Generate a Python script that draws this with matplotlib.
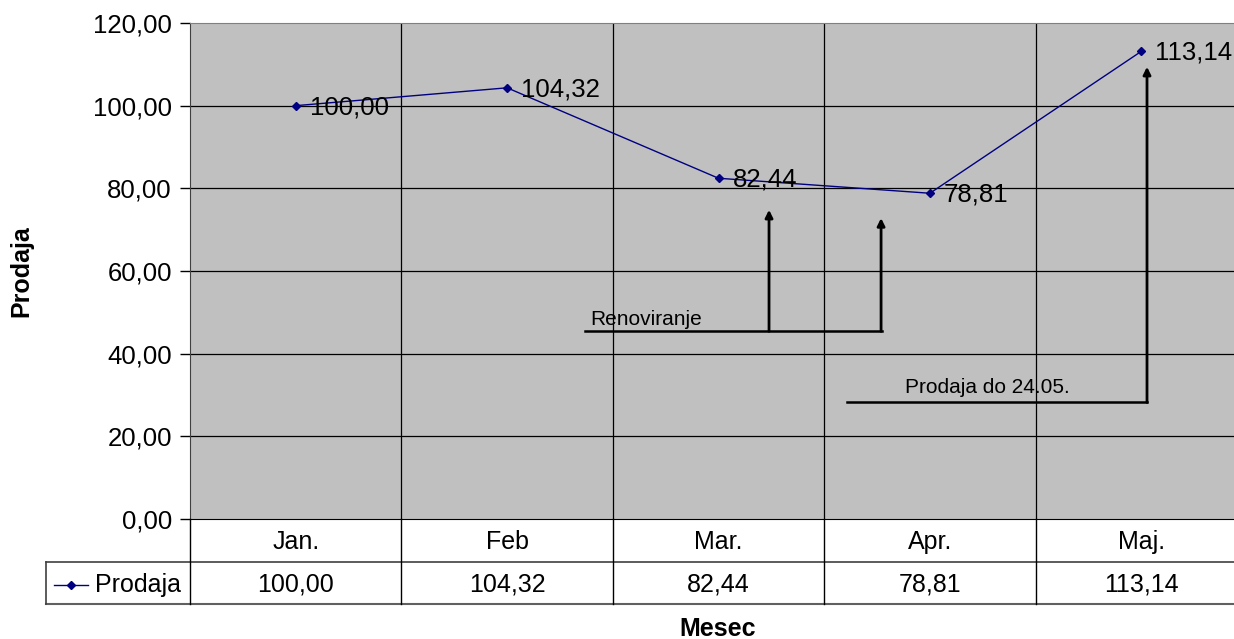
import numpy as np
import matplotlib
matplotlib.use("Agg")
import matplotlib.pyplot as plt

plt.rcParams['font.family'] = ['Liberation Sans', 'DejaVu Sans']

# --- Données ---
mois = ["Jan.", "Feb", "Mar.", "Apr.", "Maj."]
prodaja = [100.00, 104.32, 82.44, 78.81, 113.14]
yticks = [0, 20, 40, 60, 80, 100, 120]

def fmt(v):
    return f"{v:.2f}".replace(".", ",")

navy = "#000080"
W, H = 1234, 639
fig = plt.figure(figsize=(W / 100, H / 100), dpi=100)

# axes principal (la droite dépasse de l'image, comme l'original)
x0, x1 = 190 / W, 1247 / W
ax = fig.add_axes([x0, (H - 519) / H, x1 - x0, (519 - 23) / H])
ax.set_facecolor("#C0C0C0")
x = np.arange(len(mois))
ax.plot(x, prodaja, color=navy, lw=1, marker="D", ms=4.5, mec=navy, mfc=navy)
for xi, v in zip(x, prodaja):
    ax.annotate(fmt(v), (xi, v), xytext=(10, -1), textcoords="offset points",
                fontsize=18.5, va="center", ha="left")

ax.set_xlim(-0.5, len(mois) - 0.5)
ax.set_ylim(0, 120)
ax.set_yticks(yticks)
ax.set_yticklabels([fmt(v) for v in yticks], fontsize=18.5)
ax.tick_params(axis="y", length=7, width=1, pad=6)
ax.set_xticks([])
for yy in yticks[1:-1]:
    ax.axhline(yy, color="black", lw=0.9, zorder=1)
for b in np.arange(0.5, len(mois) - 0.5, 1):
    ax.axvline(b, color="black", lw=0.9, zorder=1)
ax.spines["top"].set_color("#808080")
ax.spines["left"].set_color("#404040")
ax.spines["bottom"].set_color("black")
ax.spines["right"].set_visible(False)
ax.set_ylabel("Prodaja", fontsize=18, fontweight="bold")
ax.yaxis.set_label_coords(-0.148, 0.5)

# annotations (flèches)
arr = dict(arrowstyle="-|>", color="black", lw=2, mutation_scale=11, shrinkA=0, shrinkB=0)
ax.plot([1.369, 2.773], [45.4, 45.4], color="black", lw=1.8)
ax.annotate("", xy=(2.239, 74.8), xytext=(2.239, 45.4), arrowprops=arr)
ax.annotate("", xy=(2.769, 72.8), xytext=(2.769, 45.4), arrowprops=arr)
ax.text(1.392, 45.9, "Renoviranje", fontsize=15, va="bottom", ha="left")

ax.plot([2.608, 4.027], [28.2, 28.2], color="black", lw=1.8)
ax.annotate("", xy=(4.027, 109.4), xytext=(4.027, 28.2), arrowprops=arr)
ax.text(2.882, 31.7, "Prodaja do 24.05.", fontsize=15, va="center", ha="left")

# tableau de données
tx = fig.add_axes([x0, (H - 604) / H, x1 - x0, (604 - 519) / H])
tx.set_xlim(-0.5, len(mois) - 0.5)
tx.set_ylim(0, 2)
tx.axis("off")
left = -0.5 - (190 - 46) / 211.4
tx.plot([left, len(mois) - 0.5], [1, 1], color="#404040", lw=1.2, clip_on=False)
tx.plot([left, len(mois) - 0.5], [0, 0], color="#606060", lw=1.5, clip_on=False)
tx.plot([left, left], [0, 1], color="#404040", lw=1.2, clip_on=False)
for b in np.arange(-0.5, len(mois) - 0.5, 1):
    tx.plot([b, b], [0, 2], color="black", lw=1, clip_on=False)
for xi, m, v in zip(x, mois, prodaja):
    tx.text(xi, 1.45, m, fontsize=18, ha="center", va="center")
    tx.text(xi, 0.45, fmt(v), fontsize=18, ha="center", va="center")
tx.plot([left + 0.04, left + 0.2], [0.45, 0.45], color=navy, lw=1, marker="",
        clip_on=False)
tx.plot([left + 0.12], [0.45], color=navy, marker="D", ms=4.5, clip_on=False)
tx.text(left + 0.232, 0.45, "Prodaja", fontsize=18, ha="left", va="center")

fig.text(718 / W, 1 - 629 / H, "Mesec", fontsize=18, fontweight="bold",
         ha="center", va="center")

fig.savefig("out.png", dpi=100)
